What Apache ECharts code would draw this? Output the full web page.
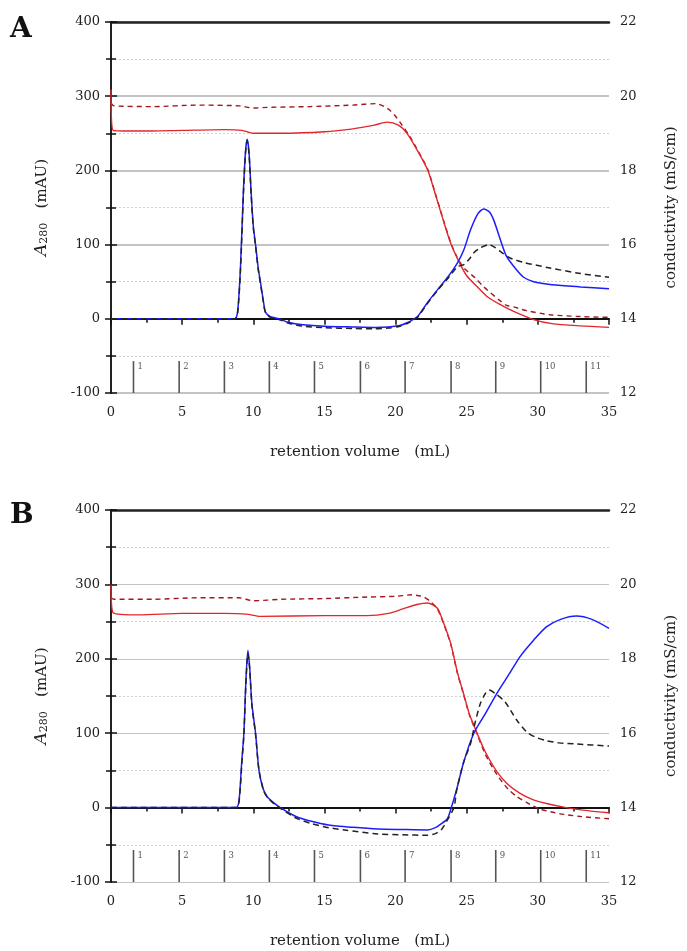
<!DOCTYPE html>
<html><head><meta charset="utf-8">
<script src="https://cdn.jsdelivr.net/npm/echarts@6/dist/echarts.min.js"></script>
<style>html,body{margin:0;padding:0;background:#fff}#c{width:687px;height:951px}</style>
</head><body><div id="c"></div>
<script>
// ---------- Panel A ----------
const aBlueVol  = [0,8.7,8.9,9.1,9.3,9.45,9.57,9.7,9.85,10.0,10.16,10.35,10.5,10.7,10.86,11.2,11.8,12.5,13.5,15,17,18.5,19.5,20.3,20.85,21.3,21.55,22.25,22.94,23.7,24.34,24.8,25.27,25.8,26.2,26.6,26.9,27.36,27.8,28.5,29,29.7,31,33,35];
const aBlueA280 = [0,0,10,70,170,225,242,225,170,125,100,68,50,25,9,3,0,-5,-8,-10,-11,-11.6,-11,-9,-5,0,3,22,39,57,75,93,120,142,148,144,133,107,84,66,56,50,46,43,40.5];
const aDashVol  = [0,8.7,8.9,9.1,9.3,9.45,9.57,9.7,9.85,10.0,10.16,10.35,10.5,10.7,10.86,11.2,11.8,12.5,13.5,15,17,18.5,19.5,20.3,20.85,21.3,21.55,22.25,22.94,23.7,24.34,24.8,25.2,25.5,26,26.55,27,27.5,28.05,29,30.85,33,35];
const aDashA280 = [0,0,8,65,165,222,240,222,168,123,98,66,48,23,8,2,-1,-6,-10,-12,-13,-13.5,-12.5,-10,-6,-1,2,21,38,55,70,73,81,89,96,100,96,89,82,76,68.5,61,56];
const aRedVol   = [0,0.15,2,5,8,9.2,10,12,15,17,18.5,19.4,20.2,20.8,21.5,22.25,22.7,23.3,23.87,24.45,25,25.73,26.5,27.36,28.3,29.7,31,33,35];
const aRedCond  = [20.18,19.08,19.06,19.08,19.1,19.08,19.0,19.0,19.04,19.12,19.22,19.3,19.22,19.0,18.56,18.02,17.48,16.72,16.04,15.54,15.16,14.87,14.58,14.38,14.2,13.98,13.87,13.81,13.77];
const aRedDVol  = [0,0.2,3,6,9,10,11,14,17,18.6,19.2,19.6,20,20.6,21,21.5,22.25,22.7,23.3,23.87,24.3,24.8,25.6,26.2,27.4,27.8,28.3,29.2,30.85,33,35];
const aRedDCond = [19.82,19.74,19.72,19.76,19.74,19.68,19.7,19.72,19.76,19.8,19.72,19.62,19.46,19.14,18.92,18.58,18.04,17.5,16.74,16.06,15.68,15.37,15.1,14.86,14.47,14.36,14.32,14.22,14.11,14.06,14.04];

// ---------- Panel B ----------
const bBlueVol  = [0,8.8,9.0,9.2,9.34,9.48,9.62,9.74,9.9,10.16,10.4,10.7,10.97,11.4,11.9,13,14,15.3,17,18.76,20.5,22.25,22.8,23.2,23.64,23.87,24.3,24.8,25.5,26.3,27.13,28,28.75,29.7,30.6,31.6,32.7,33.8,35];
const bBlueA280 = [0,0,10,65,100,170,211,190,140,100,50,25,15,7,0,-12,-18,-23.4,-26.5,-28.8,-29.5,-30,-27,-22,-15,-3,25,62,100,126,154,180,203,225,243,253,257.5,253,241];
const bDashVol  = [0,8.8,9.0,9.2,9.34,9.48,9.62,9.74,9.9,10.16,10.4,10.7,10.97,11.4,11.9,13,14,15.3,16.4,18.76,20.5,22.25,22.8,23.2,23.6,24.1,24.3,24.8,25.27,25.6,25.96,26.3,26.57,27.1,27.7,28.5,29.2,29.8,30.6,31.5,32.7,35];
const bDashA280 = [0,0,8,60,98,165,207,188,138,98,50,24,14,6,-1,-14,-21,-27,-30,-35.5,-36.5,-37.2,-35,-30,-18,0,24,62,86,115,140,153,158,152,142,118,102,95,90,87,85.5,82.8];
const bRedVol   = [0,0.15,2,5,8,9.5,10.5,15,18,19.5,20.5,21.5,22.25,22.94,23.3,23.87,24.34,24.75,25.2,25.73,26.3,27.13,27.9,28.75,29.6,30.6,32,33.5,35];
const bRedCond  = [20.0,19.24,19.18,19.22,19.22,19.2,19.14,19.16,19.16,19.22,19.34,19.46,19.5,19.36,19.04,18.42,17.64,17.1,16.5,16.0,15.5,14.96,14.62,14.38,14.22,14.11,14.0,13.92,13.86];
const bRedDVol  = [0,0.2,3,6,9,10,12,15,18,20,21.1,22,22.5,22.94,23.3,23.87,24.34,24.75,25.2,25.73,26.3,27.13,27.9,28.5,29.2,30.15,31.5,33,35];
const bRedDCond = [19.64,19.6,19.6,19.64,19.64,19.56,19.6,19.62,19.66,19.68,19.72,19.66,19.52,19.34,19.02,18.4,17.62,17.08,16.48,15.98,15.44,14.88,14.5,14.3,14.14,13.96,13.84,13.76,13.7];

// ---------- Fraction markers (same in both panels) ----------
const fracVol    = [1.58,4.79,7.97,11.13,14.3,17.53,20.67,23.9,27.04,30.2,33.4];
const fracLabels = ['1','2','3','4','5','6','7','8','9','10','11'];
const fracBottom = -100, fracTop = -57;

// ---------- Axes ----------
const xTicks = {min:0, max:35, interval:5};
const a280Range = {min:-100, max:400, interval:100};
const condRange = {min:12, max:22, interval:2};

const FONT = 'DejaVu Serif';
const zip = (xs, ys) => xs.map((x, i) => [x, ys[i]]);

const grids = [
  {left:111, top:22, width:502, height:371},
  {left:111, top:510, width:502, height:372}
];

const xAxis = [], yAxis = [], series = [];
grids.forEach((g, gi) => {
  xAxis.push({
    gridIndex:gi, type:'value', min:xTicks.min, max:xTicks.max, interval:xTicks.interval,
    name:'retention volume   (mL)', nameLocation:'middle', nameGap:52,
    nameTextStyle:{fontFamily:FONT, fontSize:15, color:'#222'},
    axisLine:{lineStyle:{color:'#111', width:2}},
    axisTick:{length:6, lineStyle:{color:'#111', width:1.5}},
    minorTick:{show:true, splitNumber:2, length:4, lineStyle:{color:'#111', width:1.5}},
    axisLabel:{fontFamily:FONT, fontSize:13, color:'#222', margin:13},
    splitLine:{show:false}
  });
  xAxis.push({
    gridIndex:gi, type:'value', position:'top', min:xTicks.min, max:xTicks.max,
    axisLine:{show:true, lineStyle:{color:'#222', width:2.5}},
    axisTick:{show:false}, axisLabel:{show:false}, splitLine:{show:false}
  });
  yAxis.push({
    gridIndex:gi, type:'value', position:'left', min:a280Range.min, max:a280Range.max, interval:a280Range.interval,
    name:'{a|A}{s|280}{n|   (mAU)}', nameLocation:'middle', nameRotate:90, nameGap:61,
    nameTextStyle:{fontFamily:FONT, color:'#222', rich:{
      a:{fontFamily:FONT, fontStyle:'italic', fontSize:17, color:'#222', lineHeight:22, verticalAlign:'bottom'},
      s:{fontFamily:FONT, fontSize:11, color:'#222', verticalAlign:'bottom', lineHeight:22, padding:[8,0,0,0]},
      n:{fontFamily:FONT, fontSize:15, color:'#222', lineHeight:22, verticalAlign:'bottom'}
    }},
    axisLine:{show:true, lineStyle:{color:'#555', width:2}},
    axisTick:{show:true, length:6, lineStyle:{color:'#111', width:1.5}},
    minorTick:{show:true, splitNumber:2, length:5, lineStyle:{color:'#111', width:1.5}},
    axisLabel:{fontFamily:FONT, fontSize:13, color:'#222', margin:11},
    splitLine:{show:true, lineStyle:{color:'#c4c4c4', width: gi===0 ? 2 : 1.2}},
    minorSplitLine:{show:true, lineStyle:{color:'#d0d0d0', width:1, type:[2,2]}}
  });
  yAxis.push({
    gridIndex:gi, type:'value', position:'right', min:condRange.min, max:condRange.max, interval:condRange.interval,
    name:'conductivity (mS/cm)', nameLocation:'middle', nameRotate:90, nameGap:55,
    nameTextStyle:{fontFamily:FONT, fontSize:15, color:'#222'},
    axisLine:{show:true, lineStyle:{color:'#111', width:1.5}},
    axisTick:{show:true, length:6, lineStyle:{color:'#111', width:1.5}},
    minorTick:{show:true, splitNumber:2, length:5, lineStyle:{color:'#111', width:1.5}},
    axisLabel:{fontFamily:FONT, fontSize:13, color:'#222', margin:11},
    splitLine:{show:false}
  });
});

function lineSeries(gi, yIdx, data, color, dashed, width) {
  return {
    type:'line', xAxisIndex:gi*2, yAxisIndex:gi*2 + yIdx, data, showSymbol:false, symbol:'none',
    smooth:0.25, animation:false, silent:true, z:3,
    lineStyle:{color, width:width || 1.5, type: dashed ? dashed : 'solid'}
  };
}

function fractionSeries(gi) {
  return {
    type:'custom', xAxisIndex:gi*2, yAxisIndex:gi*2, silent:true, animation:false, z:2,
    data: fracVol.map(v => [v]),
    renderItem: (params, api) => {
      const x = api.value(0);
      const p0 = api.coord([x, fracBottom]);
      const p1 = api.coord([x, fracTop]);
      return {type:'group', children:[
        {type:'line', shape:{x1:p0[0], y1:p0[1], x2:p1[0], y2:p1[1]}, style:{stroke:'#555', lineWidth:1.6}},
        {type:'text', x:p1[0] + 4, y:p1[1] + 1, style:{text:fracLabels[params.dataIndex], fontFamily:FONT, fontSize:8.5, fill:'#555', textVerticalAlign:'top'}}
      ]};
    }
  };
}

// Panel A
series.push(fractionSeries(0));
series.push(lineSeries(0, 1, zip(aRedDVol, aRedDCond), '#a3161c', [5,4], 1.4));
series.push(lineSeries(0, 1, zip(aRedVol, aRedCond), '#e3262d', null, 1.4));
series.push(lineSeries(0, 0, zip(aBlueVol, aBlueA280), '#1c1cff', null, 1.5));
series.push(lineSeries(0, 0, zip(aDashVol, aDashA280), '#222', [6,4], 1.5));
// Panel B
series.push(fractionSeries(1));
series.push(lineSeries(1, 1, zip(bRedDVol, bRedDCond), '#a3161c', [5,4], 1.4));
series.push(lineSeries(1, 1, zip(bRedVol, bRedCond), '#e3262d', null, 1.4));
series.push(lineSeries(1, 0, zip(bBlueVol, bBlueA280), '#1c1cff', null, 1.5));
series.push(lineSeries(1, 0, zip(bDashVol, bDashA280), '#222', [6,4], 1.5));

const chart = echarts.init(document.getElementById('c'), null, {renderer:'canvas'});
chart.setOption({
  backgroundColor:'#fff',
  animation:false,
  grid: grids,
  xAxis, yAxis, series,
  graphic:[
    {type:'text', left:10, top:16, style:{text:'A', fontFamily:FONT, fontWeight:'bold', fontSize:28, fill:'#111'}},
    {type:'text', left:10, top:502, style:{text:'B', fontFamily:FONT, fontWeight:'bold', fontSize:28, fill:'#111'}}
  ]
});
</script>
</body></html>
